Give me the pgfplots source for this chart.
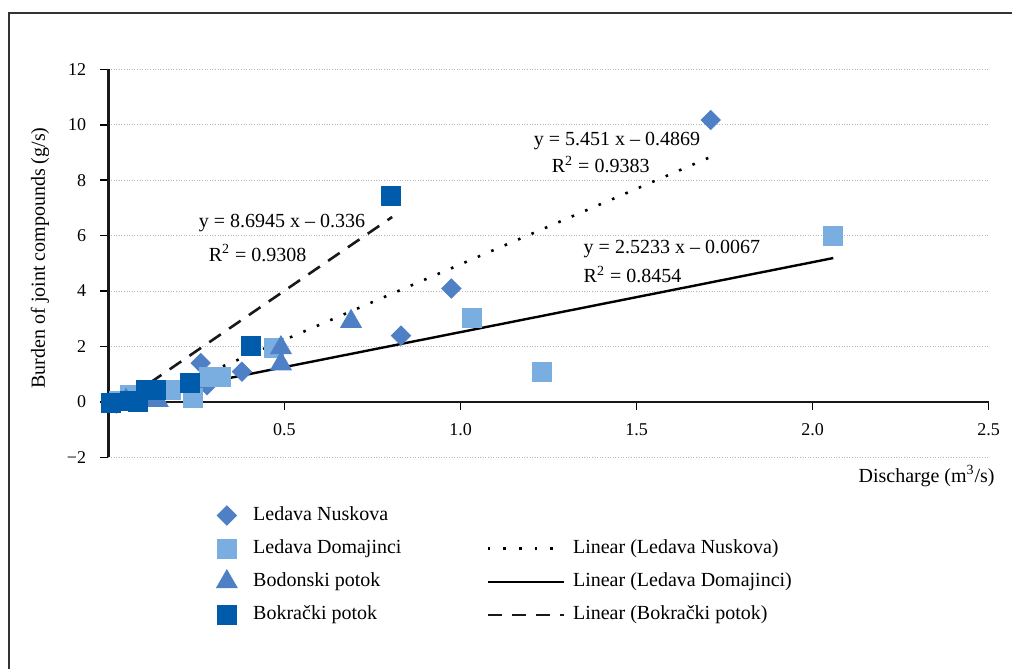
\documentclass[border=0pt]{standalone}
\usepackage{fontspec}
\setmainfont{Liberation Serif}
\usepackage{pgfplots}
\pgfplotsset{compat=1.18}
\definecolor{cNus}{HTML}{4F80C6}
\definecolor{cDom}{HTML}{7AAEE0}
\definecolor{cBok}{HTML}{005BAA}
\pgfplotsset{
  lineleg/.style={legend image code/.code={\draw[##1] (0bp,0bp) -- (38bp,0bp);}},
  markleg/.style={legend image code/.code={\draw[mark repeat=2,mark phase=2,##1] plot coordinates {(0bp,0bp) (6bp,0bp) (12bp,0bp)};}},
  diam/.style={mark=square*, mark size=3.4bp, every mark/.append style={rotate=45}},
}
\begin{document}
\fontsize{10bp}{12bp}\selectfont
\begin{tikzpicture}
\useasboundingbox (-54.25bp,-105.85bp) rectangle (451.75bp,228.65bp);
\draw[line width=1bp, color=black!80] (-49.75bp,-120bp) -- (-49.75bp,222.15bp) -- (470bp,222.15bp);
\begin{axis}[
  at={(0,0)}, anchor=south west, scale only axis, width=440bp, height=194bp,
  xmin=0, xmax=2.5, ymin=-2, ymax=12,
  axis x line=middle, axis y line=left,
  axis line style={-, line width=1.1bp, black!90},
  hide obscured x ticks=false, hide obscured y ticks=false,
  xtick={0.5,1,1.5,2,2.5}, ytick={-2,0,2,4,6,8,10,12},
  xticklabels={0.5,1.0,1.5,2.0,2.5},
  yticklabels={−2,0,2,4,6,8,10,12},
  tick align=outside, xtick align=outside, major tick length=4bp,
  tick style={line width=0.8bp, black},
  ymajorgrids,
  major grid style={line width=0.4bp, dash pattern=on 0.5bp off 0.8bp, color=black!28},
  ticklabel style={font=\fontsize{9bp}{10bp}\selectfont},
  yticklabel style={anchor=east, inner sep=0pt, xshift=-7bp},
  xticklabel style={anchor=base, inner sep=0pt, yshift=-13bp},
  clip=false,
  legend columns=2,
  legend cell align=left,
  legend style={draw=none, fill=none, inner sep=0pt, outer sep=0pt,
    at={(axis description cs:0.1227,-0.1160)}, anchor=north west,
    font=\fontsize{10bp}{12bp}\selectfont,
    nodes={text height=7bp, text depth=2.2bp},
    row sep=3.4bp,
    /tikz/column 1/.style={column sep=6bp},
    /tikz/column 2/.style={column sep=40.5bp},
    /tikz/column 3/.style={column sep=2bp}},
  markleg,
]
% Ledava Nuskova
\addplot[only marks, diam, color=cNus, forget plot] coordinates {
(0.02,0.00) (0.10,0.15) (0.28,0.60) (0.262,1.40) (0.379,1.09) (0.831,2.39) (0.974,4.09) (1.711,10.17)};
% Ledava Domajinci
\addplot[only marks, mark=square*, mark size=4.75bp, color=cDom, forget plot] coordinates {
(0.03,0.05) (0.06,0.25) (0.177,0.43) (0.24,0.15) (0.285,0.90) (0.32,0.90) (0.47,1.95) (1.031,3.04) (1.23,1.09) (2.059,6.00)};
% Bodonski potok
\addplot[only marks, mark=triangle*, mark size=6bp, color=cNus, forget plot] coordinates {
(0.05,0.05) (0.10,0.10) (0.14,0.05) (0.49,1.95) (0.49,1.37) (0.689,2.90)};
% Bokracki potok
\addplot[only marks, mark=square*, mark size=4.75bp, color=cBok, forget plot] coordinates {
(0.007,-0.04) (0.061,0.03) (0.084,0.00) (0.107,0.43) (0.135,0.43) (0.232,0.69) (0.405,2.02) (0.803,7.45)};
% trend lines
\addplot[black, line width=1.3bp, dash pattern=on 1.3bp off 6bp, forget plot] coordinates {(0.02,-0.3779) (1.711,8.8398)};
\addplot[black, line width=1.2bp, forget plot] coordinates {(0.03,0.0690) (2.059,5.1888)};
\addplot[black!90, line width=1.3bp, dash pattern=on 7bp off 5bp, forget plot] coordinates {(0.005,-0.2925) (0.806,6.6718)};
% legend entries
\addlegendimage{only marks, diam, color=cNus}
\addlegendentry{Ledava Nuskova}
\addlegendimage{empty legend}
\addlegendentry{}
\addlegendimage{only marks, mark=square*, mark size=4.75bp, color=cDom}
\addlegendentry{Ledava Domajinci}
\addlegendimage{black, line width=1.3bp, dash pattern=on 1.3bp off 6.5bp, lineleg}
\addlegendentry{Linear (Ledava Nuskova)}
\addlegendimage{only marks, mark=triangle*, mark size=6bp, color=cNus}
\addlegendentry{Bodonski potok}
\addlegendimage{black, line width=1.2bp, lineleg}
\addlegendentry{Linear (Ledava Domajinci)}
\addlegendimage{only marks, mark=square*, mark size=4.75bp, color=cBok}
\addlegendentry{Bokrački potok}
\addlegendimage{black!90, line width=1.3bp, dash pattern=on 7bp off 5bp, lineleg}
\addlegendentry{Linear (Bokrački potok)}
% annotations
\node[anchor=base west, inner sep=0pt] at (axis cs:0.2557,6.284) {y = 8.6945 x – 0.336};
\node[anchor=base west, inner sep=0pt] at (axis cs:0.284,5.076) {R\textsuperscript{2} = 0.9308};
\node[anchor=base west, inner sep=0pt] at (axis cs:1.2074,9.237) {y = 5.451 x – 0.4869};
\node[anchor=base west, inner sep=0pt] at (axis cs:1.2585,8.274) {R\textsuperscript{2} = 0.9383};
\node[anchor=base west, inner sep=0pt] at (axis cs:1.349,5.344) {y = 2.5233 x – 0.0067};
\node[anchor=base west, inner sep=0pt] at (axis cs:1.349,4.295) {R\textsuperscript{2} = 0.8454};
\node[anchor=base east, inner sep=0pt] at (axis description cs:1.00739,-0.0637) {Discharge (m\textsuperscript{3}/s)};
\node[rotate=90, anchor=center, inner sep=0pt] at (axis description cs:-0.0778,0.5137) {Burden of joint compounds (g/s)};
\end{axis}
\end{tikzpicture}
\end{document}
